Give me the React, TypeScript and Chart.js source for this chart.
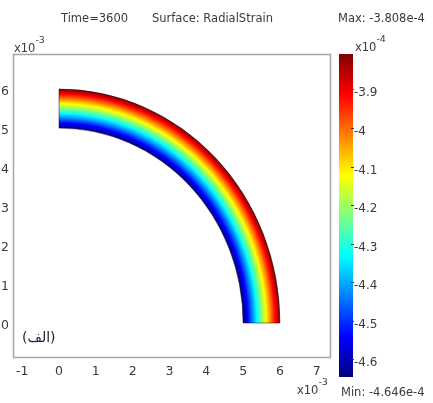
import React, { useEffect, useRef } from "react";
import { Chart, registerables } from "chart.js";

Chart.register(...registerables);

// ---- data (lengths in units of 1e-3, strain in units of 1e-4) ----
const xTickValues = [-1, 0, 1, 2, 3, 4, 5, 6, 7];
const yTickValues = [0, 1, 2, 3, 4, 5, 6];
const ringRadii = [5, 6]; // inner, outer
const ringStrain = [-4.646, -3.808]; // strain at inner, outer radius
const colorbarTickValues = [-3.9, -4, -4.1, -4.2, -4.3, -4.4, -4.5, -4.6];
const colorbarTickLabels = ["-3.9", "-4", "-4.1", "-4.2", "-4.3", "-4.4", "-4.5", "-4.6"];
const strainMin = -4.646;
const strainMax = -3.808;
const titleTime = "Time=3600";
const titleSurface = "Surface: RadialStrain";
const maxText = "Max: -3.808e-4";
const minText = "Min: -4.646e-4";
const panelLabel = "(الف)";
const xExponent = "-3";
const yExponent = "-3";
const cbExponent = "-4";

const FONT = "'DejaVu Sans', sans-serif";
const TEXT = "#3a3a3a";

function jet(t: number): string {
  const c = (v: number) => Math.max(0, Math.min(1, v));
  const r = c(1.5 - Math.abs(4 * t - 3));
  const g = c(1.5 - Math.abs(4 * t - 2));
  const b = c(1.5 - Math.abs(4 * t - 1));
  return `rgb(${Math.round(r * 255)},${Math.round(g * 255)},${Math.round(b * 255)})`;
}

const normStrain = (v: number) => (v - strainMin) / (strainMax - strainMin);

function drawExp(ctx: CanvasRenderingContext2D, x: number, y: number, exp: string) {
  ctx.font = `11.5px ${FONT}`;
  ctx.textAlign = "left";
  ctx.textBaseline = "middle";
  ctx.fillText("x10", x, y);
  const w = ctx.measureText("x10").width;
  ctx.font = `9.5px ${FONT}`;
  ctx.fillText(exp, x + w, y - 8);
}

const surfacePlugin = {
  id: "surfacePlugin",
  afterDraw(chart: any) {
    const ctx: CanvasRenderingContext2D = chart.ctx;
    const xs = chart.scales.x;
    const ys = chart.scales.y;
    const area = chart.chartArea;

    // box
    ctx.save();
    ctx.strokeStyle = "#a6a6a6";
    ctx.lineWidth = 1.5;
    ctx.strokeRect(area.left + 0.5, area.top + 0.5, area.right - area.left, area.bottom - area.top);
    ctx.restore();

    // quarter annulus
    const cx = xs.getPixelForValue(0);
    const cy = ys.getPixelForValue(0);
    const sx = xs.getPixelForValue(1) - cx;
    const sy = cy - ys.getPixelForValue(1);
    const rIn = ringRadii[0];
    const rOut = ringRadii[ringRadii.length - 1];
    ctx.save();
    ctx.translate(cx, cy);
    ctx.scale(sx, sy);
    ctx.beginPath();
    ctx.arc(0, 0, rOut, -Math.PI / 2, 0, false);
    ctx.arc(0, 0, rIn, 0, -Math.PI / 2, true);
    ctx.closePath();
    const grad = ctx.createRadialGradient(0, 0, rIn, 0, 0, rOut);
    const steps = 48;
    for (let i = 0; i <= steps; i++) {
      const f = i / steps;
      const r = rIn + f * (rOut - rIn);
      let v = ringStrain[0];
      for (let k = 0; k < ringRadii.length - 1; k++) {
        if (r >= ringRadii[k] && r <= ringRadii[k + 1]) {
          const u = (r - ringRadii[k]) / (ringRadii[k + 1] - ringRadii[k]);
          v = ringStrain[k] + u * (ringStrain[k + 1] - ringStrain[k]);
        }
      }
      grad.addColorStop(f, jet(normStrain(v)));
    }
    ctx.fillStyle = grad;
    ctx.fill();
    ctx.restore();
    ctx.save();
    ctx.strokeStyle = "rgba(20,0,30,0.5)";
    ctx.lineWidth = 1;
    ctx.stroke();
    ctx.restore();

    // colorbar
    const cbL = 339, cbR = 353, cbT = 54, cbB = 377;
    const cbPix = (v: number) => cbB - normStrain(v) * (cbB - cbT);
    ctx.save();
    const lg = ctx.createLinearGradient(0, cbB, 0, cbT);
    for (let i = 0; i <= steps; i++) lg.addColorStop(i / steps, jet(i / steps));
    ctx.fillStyle = lg;
    ctx.fillRect(cbL, cbT, cbR - cbL, cbB - cbT);
    ctx.strokeStyle = "#333";
    ctx.lineWidth = 1;
    ctx.fillStyle = TEXT;
    ctx.font = `12px ${FONT}`;
    ctx.textAlign = "left";
    ctx.textBaseline = "middle";
    colorbarTickValues.forEach((v, i) => {
      const p = Math.round(cbPix(v)) + 0.5;
      ctx.beginPath();
      ctx.moveTo(cbR - 2, p);
      ctx.lineTo(cbR + 1, p);
      ctx.stroke();
      ctx.fillText(colorbarTickLabels[i], cbR + 1, p + 3);
    });
    ctx.restore();

    // texts
    ctx.save();
    ctx.fillStyle = TEXT;
    ctx.font = `11.5px ${FONT}`;
    ctx.textAlign = "left";
    ctx.textBaseline = "middle";
    ctx.fillText(titleTime, 61, 19);
    ctx.fillText(titleSurface, 152, 19);
    ctx.fillText(maxText, 338, 19);
    ctx.fillText(minText, 341, 393);
    drawExp(ctx, 14, 49, yExponent);
    drawExp(ctx, 355, 48, cbExponent);
    drawExp(ctx, 297, 391, xExponent);
    ctx.fillStyle = "#1c1c3a";
    ctx.font = `14px ${FONT}`;
    ctx.textAlign = "left";
    ctx.fillText(panelLabel, 22, 338);
    ctx.restore();
  },
};

export default function App() {
  const ref = useRef<HTMLCanvasElement | null>(null);
  useEffect(() => {
    if (!ref.current) return;
    const chart = new Chart(ref.current, {
      type: "scatter",
      data: { datasets: [{ data: [], pointRadius: 0 }] },
      options: {
        animation: false,
        responsive: true,
        maintainAspectRatio: false,
        events: [],
        layout: { padding: { left: 0, top: 54, right: 103, bottom: 0 } },
        plugins: { legend: { display: false }, tooltip: { enabled: false }, title: { display: false } },
        scales: {
          x: {
            type: "linear",
            min: -1.25,
            max: 7.36,
            afterBuildTicks: (s: any) => {
              s.ticks = xTickValues.map((v) => ({ value: v }));
            },
            afterFit: (s: any) => {
              s.height = 46;
            },
            grid: { display: false, drawTicks: false },
            border: { display: false },
            ticks: { color: TEXT, font: { family: FONT, size: 12.5 }, padding: 7, maxRotation: 0, autoSkip: false },
          },
          y: {
            type: "linear",
            min: -0.872,
            max: 6.9,
            afterBuildTicks: (s: any) => {
              s.ticks = yTickValues.map((v) => ({ value: v }));
            },
            afterFit: (s: any) => {
              s.width = 13;
            },
            grid: { display: false, drawTicks: false },
            border: { display: false },
            ticks: { color: TEXT, font: { family: FONT, size: 12.5 }, padding: 4, labelOffset: 3, autoSkip: false },
          },
        },
      },
      plugins: [surfacePlugin],
    } as any);
    return () => chart.destroy();
  }, []);
  return (
    <div style={{ position: "absolute", left: 0, top: 0, width: 433, height: 403, background: "#fff" }}>
      <canvas ref={ref} />
    </div>
  );
}
